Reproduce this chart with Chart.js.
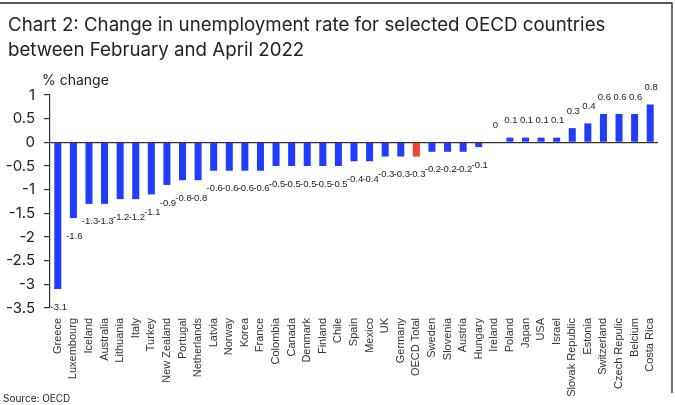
<!DOCTYPE html>
<html>
<head>
<meta charset="utf-8">
<script src="https://cdn.jsdelivr.net/npm/chart.js@4.4.0/dist/chart.umd.min.js"></script>
<style>
  html, body { margin: 0; padding: 0; background: #fff; }
  #wrap { position: relative; width: 675px; height: 405px; }
</style>
</head>
<body>
<div id="wrap"><canvas id="myChart" width="675" height="405"></canvas></div>
<script>
// data
var countries = ["Greece", "Luxembourg", "Iceland", "Australia", "Lithuania", "Italy", "Turkey",
  "New Zealand", "Portugal", "Netherlands", "Latvia", "Norway", "Korea", "France", "Colombia",
  "Canada", "Denmark", "Finland", "Chile", "Spain", "Mexico", "UK", "Germany", "OECD Total",
  "Sweden", "Slovenia", "Austria", "Hungary", "Ireland", "Poland", "Japan", "USA", "Israel",
  "Slovak Republic", "Estonia", "Switzerland", "Czech Repulic", "Belcium", "Costa Rica"];
var changes = [-3.1, -1.6, -1.3, -1.3, -1.2, -1.2, -1.1, -0.9, -0.8, -0.8, -0.6, -0.6, -0.6, -0.6,
  -0.5, -0.5, -0.5, -0.5, -0.5, -0.4, -0.4, -0.3, -0.3, -0.3, -0.2, -0.2, -0.2, -0.1, 0,
  0.1, 0.1, 0.1, 0.1, 0.3, 0.4, 0.6, 0.6, 0.6, 0.8];
var yTicks = [1, 0.5, 0, -0.5, -1, -1.5, -2, -2.5, -3, -3.5];

var blue = "#1f3cff";
var red = "#f2412f";
var barColors = countries.map(function (c) { return c === "OECD Total" ? red : blue; });

var extras = {
  id: "extras",
  afterDatasetsDraw: function (chart) {
    var ctx = chart.ctx;
    var meta = chart.getDatasetMeta(0);
    ctx.save();
    ctx.fillStyle = "#222";
    ctx.font = '9.5px "Liberation Sans"';
    ctx.textAlign = "center";
    ctx.textBaseline = "middle";
    meta.data.forEach(function (bar, i) {
      var v = changes[i];
      var y = v < 0 ? bar.y + 18 : bar.y - 17;
      ctx.fillText(String(v), bar.x + 1, y);
    });
    ctx.restore();
  },
  afterDraw: function (chart) {
    var ctx = chart.ctx;
    ctx.save();
    ctx.fillStyle = "#222";
    ctx.textAlign = "left";
    ctx.textBaseline = "alphabetic";
    ctx.font = "18.7px Inter";
    ctx.fillText("Chart 2: Change in unemployment rate for selected OECD countries", 8, 31);
    ctx.fillText("between February and April 2022", 8, 56);
    ctx.font = "14px Inter";
    ctx.fillText("% change", 42, 85);
    ctx.font = "10px Inter";
    ctx.fillText("Source: OECD", 3, 402);
    ctx.strokeStyle = "#222";
    ctx.lineWidth = 1.3;
    ctx.beginPath();
    ctx.moveTo(0, 3);
    ctx.lineTo(672, 3);
    ctx.lineTo(672, 393);
    ctx.stroke();
    ctx.restore();
  }
};

new Chart("myChart", {
  type: "bar",
  data: {
    labels: countries,
    datasets: [{
      data: changes,
      backgroundColor: barColors,
      barPercentage: 0.9,
      categoryPercentage: 0.5
    }]
  },
  options: {
    responsive: false,
    animation: false,
    layout: { padding: { top: 95, right: 17, bottom: 0, left: 0 } },
    plugins: {
      legend: { display: false },
      title: { display: false },
      tooltip: { enabled: false }
    },
    scales: {
      x: {
        grid: { display: false },
        border: { display: false },
        ticks: {
          autoSkip: false, minRotation: 90, maxRotation: 90,
          color: "#333", font: { family: "Liberation Sans", size: 11 }, padding: 2
        },
        afterFit: function (s) { s.height = 97; }
      },
      y: {
        min: -3.5, max: 1,
        afterBuildTicks: function (s) {
          s.ticks = yTicks.map(function (v) { return { value: v }; });
        },
        grid: {
          color: function (c) { return c.tick && c.tick.value === 0 ? "#333" : "rgba(0,0,0,0)"; },
          tickColor: "#333", tickLength: 6, lineWidth: 1.2
        },
        border: { display: true, color: "#333", width: 1.2 },
        ticks: {
          color: "#222", font: { family: "Inter", size: 15 }, padding: 9,
          callback: function (v) { return String(v); }
        },
        afterFit: function (s) { s.width = 50; }
      }
    }
  },
  plugins: [extras]
});
</script>
</body>
</html>
